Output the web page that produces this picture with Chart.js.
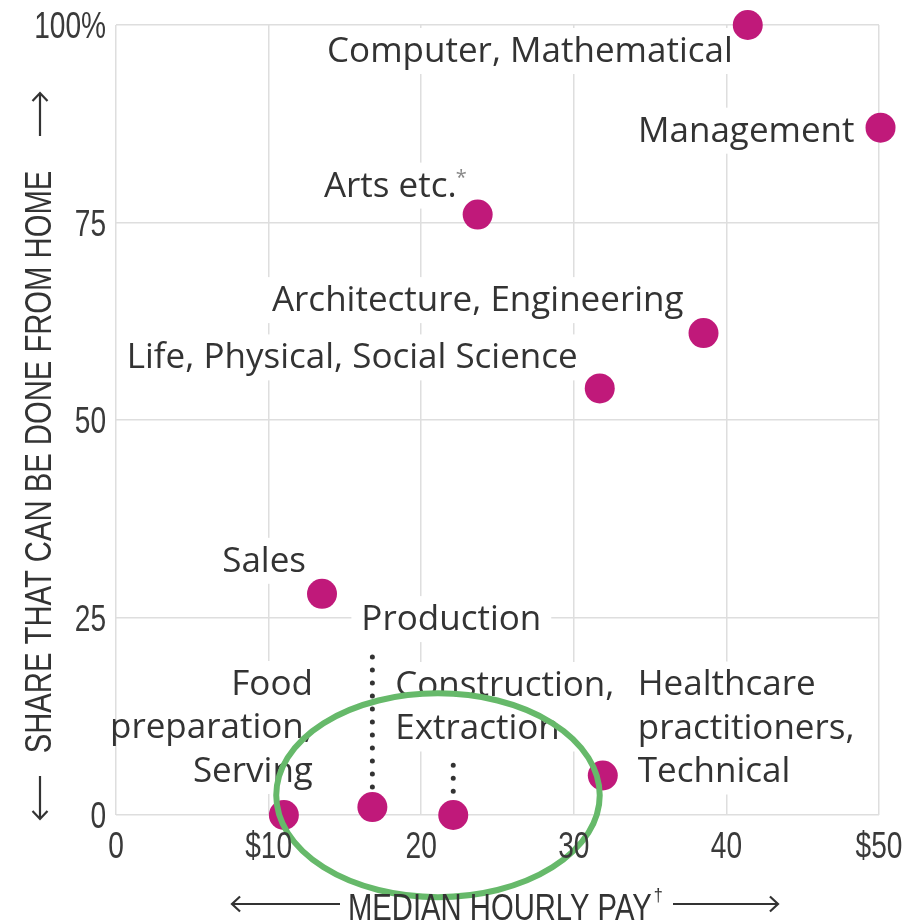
<!DOCTYPE html>
<html>
<head>
<meta charset="utf-8">
<script src="https://cdn.jsdelivr.net/npm/chart.js@4.4.0/dist/chart.umd.min.js"></script>
<style>
  html, body { margin: 0; padding: 0; background: #fff; }
  canvas { display: block; }
</style>
</head>
<body>
<canvas id="chart" width="907" height="921"></canvas>
<script>
"use strict";

// Data
const categories = [
  "Computer, Mathematical", "Management", "Arts etc.", "Architecture, Engineering",
  "Life, Physical, Social Science", "Sales", "Production", "Construction, Extraction",
  "Food preparation, Serving", "Healthcare practitioners, Technical"
];
const medianHourlyPay = [41.4, 50.1, 23.7, 38.5, 31.7, 13.5, 16.8, 22.1, 11.0, 31.9];
const shareFromHome   = [100, 87, 76, 61, 54, 28, 1, 0, 0, 5];
// top of the dotted leader line (share units), null = none
const leaderTop       = [null, null, null, null, null, null, 20, 6.3, null, null];

const xTickLabels = { 0: "0", 10: "$10", 20: "20", 30: "30", 40: "40", 50: "$50" };
const yTickLabels = { 0: "0", 25: "25", 50: "50", 75: "75", 100: "100%" };

// highlight ellipse, in data units
const highlight = { x: 21.1, y: 2.5, rx: 10.6, ry: 12.9 };

// Label placement (pixels relative to the dot), not data
const labelLayout = [
  { lines: ["Computer, Mathematical"], align: "right", dx: -15, dy: 27 },
  { lines: ["Management"], align: "right", dx: -26, dy: 4 },
  { lines: ["Arts etc."], sup: "*", align: "right", dx: -21, dy: -28 },
  { lines: ["Architecture, Engineering"], align: "right", dx: -20, dy: -32 },
  { lines: ["Life, Physical, Social Science"], align: "right", dx: -22, dy: -30 },
  { lines: ["Sales"], align: "right", dx: -16, dy: -32 },
  { lines: ["Production"], align: "left", dx: -11, dy: -187 },
  { lines: ["Construction,", "Extraction"], align: "left", dx: -58, dy: -129 },
  { lines: ["Food", "preparation,", "Serving"], align: "right", dx: 29, dy: -130 },
  { lines: ["Healthcare", "practitioners,", "Technical"], align: "left", dx: 35, dy: -90 }
];

const DOT = "#c0197a";
const TEXT = "#333";
const LABEL_FONT = "35px 'Open Sans', sans-serif";
const SANS = "'Liberation Sans', Arial, sans-serif";
const LINE_H = 43.5;

// condensed text: Liberation Sans squeezed horizontally
function narrowText(ctx, text, x, y, align, size, squeeze) {
  ctx.save();
  ctx.translate(x, y);
  ctx.scale(squeeze, 1);
  ctx.font = size + "px " + SANS;
  ctx.textAlign = align;
  ctx.fillText(text, 0, 0);
  const w = ctx.measureText(text).width * squeeze;
  ctx.restore();
  return w;
}

function arrow(ctx, x1, y1, x2, y2) {
  const a = Math.atan2(y2 - y1, x2 - x1), h = 11;
  ctx.beginPath();
  ctx.moveTo(x1, y1);
  ctx.lineTo(x2, y2);
  ctx.moveTo(x2 - h * Math.cos(a - 0.75), y2 - h * Math.sin(a - 0.75));
  ctx.lineTo(x2, y2);
  ctx.lineTo(x2 - h * Math.cos(a + 0.75), y2 - h * Math.sin(a + 0.75));
  ctx.stroke();
}

const annotate = {
  id: "annotate",
  beforeDatasetsDraw(chart) {
    const { ctx, chartArea: a, scales: { x, y } } = chart;
    ctx.save();
    ctx.font = LABEL_FONT;
    ctx.textBaseline = "middle";

    // white knock-out boxes behind labels
    ctx.save();
    ctx.beginPath();
    ctx.rect(a.left + 1, a.top + 1, a.right - a.left - 2, a.bottom - a.top - 2);
    ctx.clip();
    labelLayout.forEach((L, i) => {
      const ax = x.getPixelForValue(medianHourlyPay[i]) + L.dx;
      const ay = y.getPixelForValue(shareFromHome[i]) + L.dy;
      const w = Math.max(...L.lines.map(t => ctx.measureText(t).width)) + (L.sup ? 10 : 0);
      const left = L.align === "right" ? ax - w : ax;
      ctx.fillStyle = "#fff";
      ctx.fillRect(left - 10, ay - 24, w + 20, (L.lines.length - 1) * LINE_H + 46);
    });
    ctx.restore();

    // label text
    ctx.fillStyle = TEXT;
    labelLayout.forEach((L, i) => {
      const ax = x.getPixelForValue(medianHourlyPay[i]) + L.dx;
      const ay = y.getPixelForValue(shareFromHome[i]) + L.dy;
      ctx.textAlign = L.align;
      if (L.sup) {
        ctx.save();
        ctx.font = "20px 'Open Sans', sans-serif";
        ctx.fillStyle = "#888";
        ctx.textAlign = "right";
        ctx.fillText(L.sup, ax + 10, ay - 8);
        ctx.restore();
      }
      L.lines.forEach((t, k) => ctx.fillText(t, ax, ay + k * LINE_H));
    });

    // dotted leaders
    ctx.strokeStyle = TEXT;
    ctx.lineWidth = 5;
    ctx.lineCap = "round";
    ctx.setLineDash([0, 13]);
    leaderTop.forEach((top, i) => {
      if (top === null) return;
      const px = x.getPixelForValue(medianHourlyPay[i]);
      ctx.beginPath();
      ctx.moveTo(px, y.getPixelForValue(top));
      ctx.lineTo(px, y.getPixelForValue(shareFromHome[i]) - 16);
      ctx.stroke();
    });
    ctx.restore();
  },
  afterDatasetsDraw(chart) {
    const { ctx, scales: { x, y } } = chart;
    ctx.save();

    // green highlight ring
    const cx = x.getPixelForValue(highlight.x), cy = y.getPixelForValue(highlight.y);
    const rx = x.getPixelForValue(highlight.x + highlight.rx) - cx;
    const ry = cy - y.getPixelForValue(highlight.y + highlight.ry);
    ctx.beginPath();
    ctx.ellipse(cx, cy, rx, ry, 0, 0, Math.PI * 2);
    ctx.strokeStyle = "#66b96a";
    ctx.lineWidth = 6;
    ctx.stroke();

    // tick labels from the library's scales, in a condensed face
    ctx.fillStyle = "#3a3a3a";
    ctx.textBaseline = "alphabetic";
    x.ticks.forEach(t => {
      const lbl = xTickLabels[t.value];
      if (lbl !== undefined) narrowText(ctx, lbl, x.getPixelForValue(t.value), y.bottom + 43, "center", 36, 0.78);
    });
    y.ticks.forEach(t => {
      const lbl = yTickLabels[t.value];
      if (lbl !== undefined) narrowText(ctx, lbl, x.left - 10, y.getPixelForValue(t.value) + 13, "right", 36, 0.78);
    });

    // axis titles
    ctx.fillStyle = TEXT;
    ctx.strokeStyle = TEXT;
    ctx.lineWidth = 2.2;
    ctx.save();
    ctx.translate(39, 462);
    ctx.rotate(-Math.PI / 2);
    ctx.textBaseline = "middle";
    narrowText(ctx, "SHARE THAT CAN BE DONE FROM HOME", 0, 2, "center", 37, 0.79);
    ctx.restore();
    arrow(ctx, 40, 136, 40, 93);
    arrow(ctx, 40, 776, 40, 819);

    ctx.textBaseline = "alphabetic";
    const tw = narrowText(ctx, "MEDIAN HOURLY PAY", 348, 920, "left", 37, 0.79);
    narrowText(ctx, "\u2020", 348 + tw + 2, 901, "left", 18, 0.9);
    arrow(ctx, 340, 904, 232, 904);
    arrow(ctx, 673, 904, 778, 904);
    ctx.restore();
  }
};

const ctx = document.getElementById("chart").getContext("2d");
new Chart(ctx, {
  type: "scatter",
  data: {
    datasets: [{
      label: "Occupations",
      data: categories.map((c, i) => ({ x: medianHourlyPay[i], y: shareFromHome[i] })),
      backgroundColor: DOT,
      borderWidth: 0,
      pointRadius: 15,
      clip: false
    }]
  },
  options: {
    responsive: false,
    animation: false,
    layout: { padding: { top: 25, right: 28, left: 0, bottom: 0 } },
    plugins: { legend: { display: false }, tooltip: { enabled: false } },
    scales: {
      x: {
        type: "linear", min: 0, max: 50,
        afterFit: s => { s.height = 106; },
        ticks: { stepSize: 10, display: false },
        grid: { color: "#dedede", lineWidth: 1.5, drawTicks: false },
        border: { display: false }
      },
      y: {
        type: "linear", min: 0, max: 100,
        afterFit: s => { s.width = 116; },
        ticks: { stepSize: 25, display: false },
        grid: { color: "#dedede", lineWidth: 1.5, drawTicks: false },
        border: { display: false }
      }
    }
  },
  plugins: [annotate]
});
</script>
</body>
</html>
